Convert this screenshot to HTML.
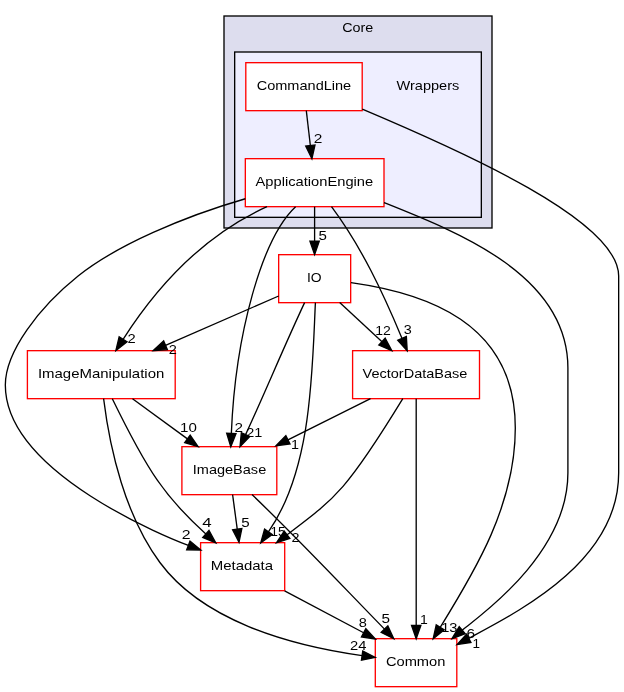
<!DOCTYPE html>
<html><head><meta charset="utf-8"><title>Wrappers</title>
<style>html,body{margin:0;padding:0;background:#fff;}svg{display:block;will-change:transform;}text{font-family:"Liberation Sans",sans-serif;fill:#000;}</style></head><body>
<svg width="624" height="692" viewBox="0 0 624 692">
<rect x="0" y="0" width="624" height="692" fill="#ffffff"/>
<rect x="224" y="16" width="268" height="212" fill="#ddddee" stroke="#000" stroke-width="1.333"/>
<rect x="234.67" y="52" width="246.67" height="165.33" fill="#eeeeff" stroke="#000" stroke-width="1.333"/>
<text x="357.75" y="32.40" font-size="13.60" text-anchor="middle" textLength="31.10" lengthAdjust="spacingAndGlyphs">Core</text>
<text x="427.95" y="90.00" font-size="13.60" text-anchor="middle" textLength="62.70" lengthAdjust="spacingAndGlyphs">Wrappers</text>
<rect x="245.80" y="62.67" width="116.40" height="48.00" fill="#fff" stroke="#ff0000" stroke-width="1.333"/>
<text x="303.95" y="90.17" font-size="13.60" text-anchor="middle" textLength="94.50" lengthAdjust="spacingAndGlyphs">CommandLine</text>
<rect x="245.33" y="158.67" width="138.67" height="48.00" fill="#fff" stroke="#ff0000" stroke-width="1.333"/>
<text x="314.35" y="186.17" font-size="13.60" text-anchor="middle" textLength="117.70" lengthAdjust="spacingAndGlyphs">ApplicationEngine</text>
<rect x="278.67" y="254.67" width="72.00" height="48.00" fill="#fff" stroke="#ff0000" stroke-width="1.333"/>
<text x="314.25" y="282.17" font-size="13.60" text-anchor="middle" textLength="14.70" lengthAdjust="spacingAndGlyphs">IO</text>
<rect x="27.40" y="350.67" width="147.80" height="48.00" fill="#fff" stroke="#ff0000" stroke-width="1.333"/>
<text x="101.10" y="378.17" font-size="13.60" text-anchor="middle" textLength="126.40" lengthAdjust="spacingAndGlyphs">ImageManipulation</text>
<rect x="352.60" y="350.67" width="126.90" height="48.00" fill="#fff" stroke="#ff0000" stroke-width="1.333"/>
<text x="415.00" y="378.17" font-size="13.60" text-anchor="middle" textLength="104.80" lengthAdjust="spacingAndGlyphs">VectorDataBase</text>
<rect x="181.90" y="446.67" width="94.90" height="48.00" fill="#fff" stroke="#ff0000" stroke-width="1.333"/>
<text x="229.50" y="474.17" font-size="13.60" text-anchor="middle" textLength="73.40" lengthAdjust="spacingAndGlyphs">ImageBase</text>
<rect x="200.60" y="542.67" width="84.10" height="48.00" fill="#fff" stroke="#ff0000" stroke-width="1.333"/>
<text x="241.90" y="570.17" font-size="13.60" text-anchor="middle" textLength="62.40" lengthAdjust="spacingAndGlyphs">Metadata</text>
<rect x="375.30" y="638.67" width="81.50" height="48.00" fill="#fff" stroke="#ff0000" stroke-width="1.333"/>
<text x="415.65" y="666.17" font-size="13.60" text-anchor="middle" textLength="59.50" lengthAdjust="spacingAndGlyphs">Common</text>
<path d="M306.30,110.70 L310.36,145.46" fill="none" stroke="#000" stroke-width="1.333"/>
<polygon points="311.90,158.70 305.72,146.00 314.99,144.92" fill="#000" stroke="#000" stroke-width="1.333"/>
<path d="M314.60,206.70 L314.60,241.27" fill="none" stroke="#000" stroke-width="1.333"/>
<polygon points="314.60,254.60 309.93,241.27 319.27,241.27" fill="#000" stroke="#000" stroke-width="1.333"/>
<path d="M267.00,206.70 C211.30,231.78 162.50,277.80 123.09,339.28" fill="none" stroke="#000" stroke-width="1.333"/>
<polygon points="115.90,350.50 119.16,336.76 127.03,341.80" fill="#000" stroke="#000" stroke-width="1.333"/>
<path d="M295.60,206.70 C261.78,238.22 235.37,334.81 231.34,433.38" fill="none" stroke="#000" stroke-width="1.333"/>
<polygon points="230.80,446.70 226.68,433.19 236.01,433.57" fill="#000" stroke="#000" stroke-width="1.333"/>
<path d="M331.50,206.70 C361.57,247.10 382.60,291.98 402.05,338.41" fill="none" stroke="#000" stroke-width="1.333"/>
<polygon points="407.20,350.70 397.74,340.21 406.36,336.60" fill="#000" stroke="#000" stroke-width="1.333"/>
<path d="M245.33,198.75 C184.01,216.53 116.82,245.00 78.10,276.00 C39.33,307.04 5.33,351.40 5.33,385.00 C5.33,473.62 171.22,538.89 188.34,545.38" fill="none" stroke="#000" stroke-width="1.333"/>
<polygon points="200.80,550.10 186.68,549.74 189.99,541.01" fill="#000" stroke="#000" stroke-width="1.333"/>
<path d="M384.00,202.60 C459.13,232.55 567.90,275.30 567.90,368.00 L567.90,473.00 C567.90,555.49 476.13,618.49 462.22,630.14" fill="none" stroke="#000" stroke-width="1.333"/>
<polygon points="452.00,638.70 459.22,626.56 465.22,633.72" fill="#000" stroke="#000" stroke-width="1.333"/>
<path d="M362.30,109.20 C463.33,151.87 618.67,220.87 618.67,276.00 L618.67,473.00 C618.67,561.54 519.15,611.21 468.74,638.29" fill="none" stroke="#000" stroke-width="1.333"/>
<polygon points="457.00,644.60 466.53,634.18 470.95,642.41" fill="#000" stroke="#000" stroke-width="1.333"/>
<path d="M278.67,296.00 L165.52,345.28" fill="none" stroke="#000" stroke-width="1.333"/>
<polygon points="153.30,350.60 163.66,341.00 167.39,349.56" fill="#000" stroke="#000" stroke-width="1.333"/>
<path d="M339.70,302.60 L382.01,341.66" fill="none" stroke="#000" stroke-width="1.333"/>
<polygon points="391.80,350.70 378.84,345.09 385.17,338.23" fill="#000" stroke="#000" stroke-width="1.333"/>
<path d="M304.60,302.60 C283.64,347.31 266.33,389.62 245.58,434.60" fill="none" stroke="#000" stroke-width="1.333"/>
<polygon points="240.00,446.70 241.34,432.64 249.82,436.55" fill="#000" stroke="#000" stroke-width="1.333"/>
<path d="M315.40,302.60 C312.15,370.27 312.19,468.90 268.41,531.86" fill="none" stroke="#000" stroke-width="1.333"/>
<polygon points="260.80,542.80 264.58,529.19 272.24,534.52" fill="#000" stroke="#000" stroke-width="1.333"/>
<path d="M351.00,282.60 C424.17,292.88 515.30,321.55 515.30,428.00 C515.30,504.62 475.31,570.61 440.21,627.36" fill="none" stroke="#000" stroke-width="1.333"/>
<polygon points="433.20,638.70 436.24,624.91 444.18,629.82" fill="#000" stroke="#000" stroke-width="1.333"/>
<path d="M132.50,398.70 L187.44,438.84" fill="none" stroke="#000" stroke-width="1.333"/>
<polygon points="198.20,446.70 184.68,442.61 190.19,435.07" fill="#000" stroke="#000" stroke-width="1.333"/>
<path d="M112.30,398.70 C148.03,471.99 165.45,497.66 205.87,533.90" fill="none" stroke="#000" stroke-width="1.333"/>
<polygon points="215.80,542.80 202.76,537.38 208.99,530.42" fill="#000" stroke="#000" stroke-width="1.333"/>
<path d="M103.60,398.70 C109.87,449.59 125.34,515.83 159.90,562.50 C202.00,619.35 285.52,644.72 362.10,655.54" fill="none" stroke="#000" stroke-width="1.333"/>
<polygon points="375.30,657.40 361.45,660.16 362.75,650.91" fill="#000" stroke="#000" stroke-width="1.333"/>
<path d="M370.50,398.70 L287.93,439.85" fill="none" stroke="#000" stroke-width="1.333"/>
<polygon points="276.00,445.80 285.85,435.67 290.01,444.03" fill="#000" stroke="#000" stroke-width="1.333"/>
<path d="M402.80,398.70 C345.87,491.81 335.06,498.39 287.03,534.75" fill="none" stroke="#000" stroke-width="1.333"/>
<polygon points="276.40,542.80 284.21,531.03 289.85,538.48" fill="#000" stroke="#000" stroke-width="1.333"/>
<path d="M416.20,398.70 L416.20,625.37" fill="none" stroke="#000" stroke-width="1.333"/>
<polygon points="416.20,638.70 411.53,625.37 420.87,625.37" fill="#000" stroke="#000" stroke-width="1.333"/>
<path d="M232.60,494.60 L237.23,529.09" fill="none" stroke="#000" stroke-width="1.333"/>
<polygon points="239.00,542.30 232.60,529.71 241.86,528.47" fill="#000" stroke="#000" stroke-width="1.333"/>
<path d="M252.00,494.60 C297.73,538.32 339.48,582.93 384.50,629.15" fill="none" stroke="#000" stroke-width="1.333"/>
<polygon points="393.80,638.70 381.15,632.41 387.84,625.89" fill="#000" stroke="#000" stroke-width="1.333"/>
<path d="M284.60,590.80 L363.63,632.75" fill="none" stroke="#000" stroke-width="1.333"/>
<polygon points="375.40,639.00 361.44,636.87 365.82,628.63" fill="#000" stroke="#000" stroke-width="1.333"/>
<text x="318.00" y="143.00" font-size="13.60" text-anchor="middle" textLength="8.60" lengthAdjust="spacingAndGlyphs">2</text>
<text x="322.60" y="239.70" font-size="13.60" text-anchor="middle" textLength="8.40" lengthAdjust="spacingAndGlyphs">5</text>
<text x="131.50" y="342.60" font-size="13.60" text-anchor="middle" textLength="8.20" lengthAdjust="spacingAndGlyphs">2</text>
<text x="172.75" y="353.80" font-size="13.60" text-anchor="middle" textLength="8.10" lengthAdjust="spacingAndGlyphs">2</text>
<text x="238.85" y="431.50" font-size="13.60" text-anchor="middle" textLength="8.50" lengthAdjust="spacingAndGlyphs">2</text>
<text x="254.25" y="436.70" font-size="13.60" text-anchor="middle" textLength="16.10" lengthAdjust="spacingAndGlyphs">21</text>
<text x="188.40" y="431.50" font-size="13.60" text-anchor="middle" textLength="16.80" lengthAdjust="spacingAndGlyphs">10</text>
<text x="295.00" y="448.70" font-size="13.60" text-anchor="middle" textLength="8.00" lengthAdjust="spacingAndGlyphs">1</text>
<text x="383.00" y="335.00" font-size="13.60" text-anchor="middle" textLength="15.60" lengthAdjust="spacingAndGlyphs">12</text>
<text x="407.80" y="333.80" font-size="13.60" text-anchor="middle" textLength="8.00" lengthAdjust="spacingAndGlyphs">3</text>
<text x="186.10" y="539.00" font-size="13.60" text-anchor="middle" textLength="8.80" lengthAdjust="spacingAndGlyphs">2</text>
<text x="206.90" y="526.70" font-size="13.60" text-anchor="middle" textLength="9.40" lengthAdjust="spacingAndGlyphs">4</text>
<text x="245.40" y="526.70" font-size="13.60" text-anchor="middle" textLength="8.40" lengthAdjust="spacingAndGlyphs">5</text>
<text x="277.95" y="536.00" font-size="13.60" text-anchor="middle" textLength="14.90" lengthAdjust="spacingAndGlyphs">15</text>
<text x="295.50" y="541.50" font-size="13.60" text-anchor="middle" textLength="8.00" lengthAdjust="spacingAndGlyphs">2</text>
<text x="358.20" y="649.70" font-size="13.60" text-anchor="middle" textLength="16.40" lengthAdjust="spacingAndGlyphs">24</text>
<text x="362.75" y="626.70" font-size="13.60" text-anchor="middle" textLength="8.10" lengthAdjust="spacingAndGlyphs">8</text>
<text x="385.75" y="622.80" font-size="13.60" text-anchor="middle" textLength="8.50" lengthAdjust="spacingAndGlyphs">5</text>
<text x="423.90" y="623.60" font-size="13.60" text-anchor="middle" textLength="7.80" lengthAdjust="spacingAndGlyphs">1</text>
<text x="449.35" y="631.80" font-size="13.60" text-anchor="middle" textLength="16.30" lengthAdjust="spacingAndGlyphs">13</text>
<text x="470.90" y="637.70" font-size="13.60" text-anchor="middle" textLength="8.60" lengthAdjust="spacingAndGlyphs">6</text>
<text x="476.25" y="648.00" font-size="13.60" text-anchor="middle" textLength="7.50" lengthAdjust="spacingAndGlyphs">1</text>
</svg></body></html>
